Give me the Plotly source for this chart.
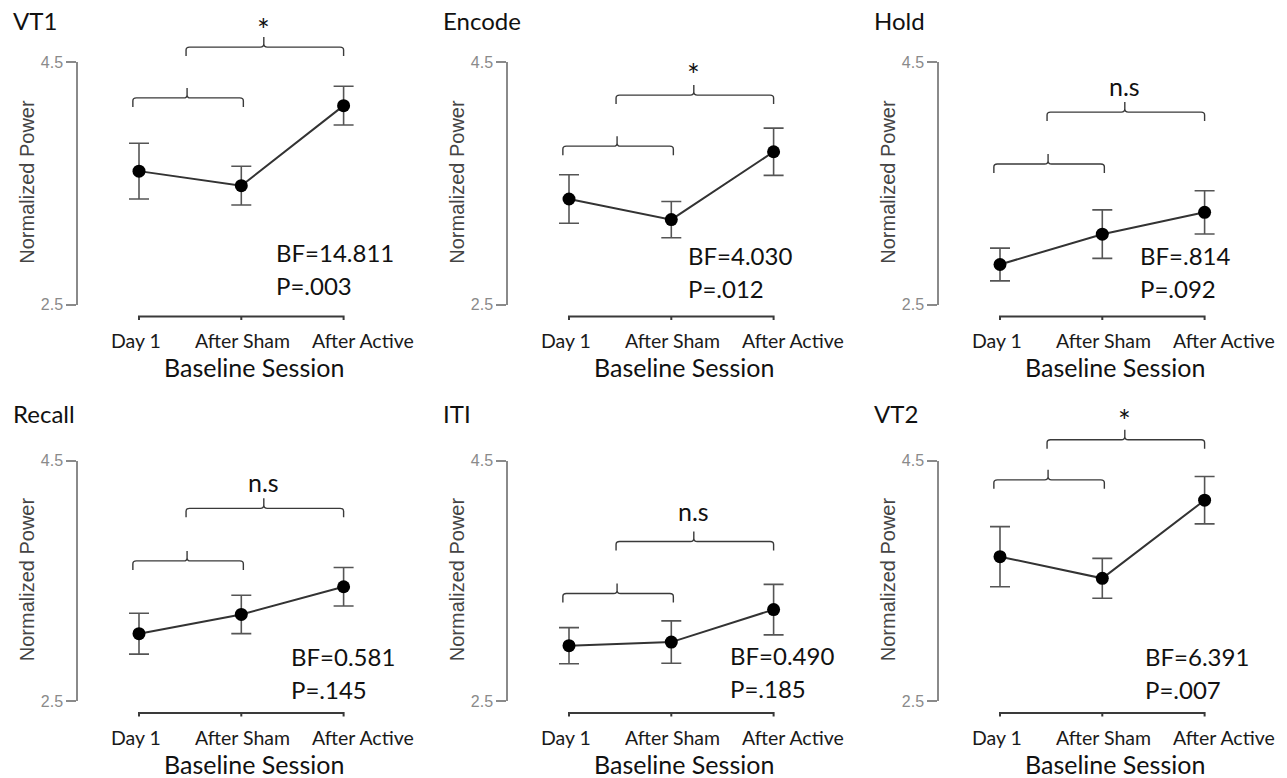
import plotly.graph_objects as go

# ---- data -------------------------------------------------------------
panels = ["VT1", "Encode", "Hold", "Recall", "ITI", "VT2"]
sessions = ["Day 1", "After Sham", "After Active"]

mean_vt1 = [3.60, 3.48, 4.14]
mean_encode = [3.37, 3.20, 3.76]
mean_hold = [2.83, 3.08, 3.26]
mean_recall = [3.06, 3.22, 3.45]
mean_iti = [2.96, 2.99, 3.26]
mean_vt2 = [3.70, 3.52, 4.17]

err_vt1 = [0.23, 0.16, 0.16]
err_encode = [0.20, 0.15, 0.195]
err_hold = [0.135, 0.20, 0.178]
err_recall = [0.17, 0.16, 0.16]
err_iti = [0.15, 0.176, 0.21]
err_vt2 = [0.25, 0.166, 0.197]

sig_labels = ["*", "*", "n.s", "n.s", "n.s", "*"]
bf_labels = ["BF=14.811", "BF=4.030", "BF=.814", "BF=0.581", "BF=0.490", "BF=6.391"]
p_labels = ["P=.003", "P=.012", "P=.092", "P=.145", "P=.185", "P=.007"]

y_ticks = [2.5, 4.5]

means = [mean_vt1, mean_encode, mean_hold, mean_recall, mean_iti, mean_vt2]
errors = [err_vt1, err_encode, err_hold, err_recall, err_iti, err_vt2]

# ---- annotation placement (value units on each panel's y scale) ----------
lower_brace_y = [4.204, 3.806, 3.659, 3.665, 3.394, 4.339]
upper_brace_y = [4.623, 4.227, 4.087, 4.102, 3.826, 4.672]
sig_label_y = [4.77, 4.40, 4.30, 4.32, 4.08, 4.84]
stats_x = [1.32, 1.145, 1.35, 1.47, 1.55, 1.40]
stats_y = [2.926, 2.905, 2.90, 2.873, 2.882, 2.873]

# ---- page geometry ------------------------------------------------------
W, H = 1287, 778
COL_LEFT = [78, 508, 939]
ROW_TOP = [62, 460.5]
ROW_BOTTOM = [304.5, 701]
FIRST_OFFSET = 61
STEP = 102.3

CAL = "Lato, 'Noto Sans', sans-serif"
ARIAL = "'Liberation Sans', Arial, sans-serif"

fig = go.Figure()
layout = dict(
    width=W, height=H,
    margin=dict(l=0, r=0, t=0, b=0, pad=0),
    paper_bgcolor="white", plot_bgcolor="white",
    showlegend=False,
)
shapes = []
annotations = []


def brace(xa, xb, xm, yl, depth_px, notch_px, xref):
    """Curly-bracket path: x in data units, y in paper units."""
    dy_end = depth_px / H
    dy_notch = notch_px / H
    dx = 3.5 / STEP
    r = 3.0 / H
    ye = yl - dy_end
    yn = yl + dy_notch
    path = (
        f"M {xa},{ye} L {xa},{yl - r} Q {xa},{yl} {xa + dx},{yl} "
        f"L {xm - dx},{yl} Q {xm},{yl} {xm},{yl + r} L {xm},{yn} "
        f"M {xm},{yl + r} Q {xm},{yl} {xm + dx},{yl} "
        f"L {xb - dx},{yl} Q {xb},{yl} {xb},{yl - r} L {xb},{ye}"
    )
    return dict(type="path", path=path, xref=xref, yref="paper",
                line=dict(color="#3a3a3a", width=1.4))


for k, name in enumerate(panels):
    r, c = divmod(k, 3)
    idx = "" if k == 0 else str(k + 1)
    xa_name, ya_name = "xaxis" + idx, "yaxis" + idx
    xref, yref = "x" + idx, "y" + idx

    left = COL_LEFT[c]
    right = left + 2 * FIRST_OFFSET + 2 * STEP
    top, bottom = ROW_TOP[r], ROW_BOTTOM[r]
    yd0, yd1 = 1 - bottom / H, 1 - top / H

    def vy(v):
        return yd0 + (v - y_ticks[0]) / (y_ticks[1] - y_ticks[0]) * (yd1 - yd0)

    layout[xa_name] = dict(
        domain=[left / W, right / W],
        range=[-FIRST_OFFSET / STEP, 2 + FIRST_OFFSET / STEP],
        anchor=yref, showline=False, showgrid=False, zeroline=False,
        showticklabels=False, ticks="", fixedrange=True, automargin=False,
    )
    layout[ya_name] = dict(
        domain=[yd0, yd1], range=y_ticks, anchor=xref,
        showline=True, linecolor="#8a8a8a", linewidth=1.5,
        ticks="outside", ticklen=10, tickwidth=1.5, tickcolor="#8a8a8a",
        tickvals=y_ticks, ticktext=[f"{v:.1f}" for v in y_ticks],
        tickfont=dict(family=ARIAL, size=16, color="#8a8a8a"),
        showgrid=False, zeroline=False, fixedrange=True, automargin=False,
    )

    fig.add_trace(go.Scatter(
        x=list(range(len(sessions))), y=means[k],
        xaxis=xref, yaxis=yref,
        mode="lines+markers",
        line=dict(color="#333333", width=2),
        marker=dict(color="black", size=13),
        error_y=dict(type="data", array=errors[k], visible=True,
                     color="#555555", thickness=1.6, width=10),
        cliponaxis=False,
    ))

    # category axis drawn below the value range
    ya = yd0 - 12 / H
    t = 3.5 / H
    shapes.append(dict(
        type="path", xref=xref, yref="paper",
        path=(f"M 0,{ya - t} L 0,{ya} L 2,{ya} L 2,{ya - t} "
              f"M 1,{ya} L 1,{ya - t}"),
        line=dict(color="#3a3a3a", width=2),
    ))
    for i, s in enumerate(sessions):
        annotations.append(dict(
            text=s, x=i, xref=xref, y=yd0 - 36 / H, yref="paper",
            xshift=[-3, 1, 19][i], showarrow=False,
            xanchor="center", yanchor="middle",
            font=dict(family=CAL, size=19.5, color="#1a1a1a"),
        ))
    annotations.append(dict(
        text="Baseline Session", x=1, xref=xref, xshift=13,
        y=yd0 - 63 / H, yref="paper", showarrow=False,
        xanchor="center", yanchor="middle",
        font=dict(family=CAL, size=25, color="#111111"),
    ))
    annotations.append(dict(
        text="Normalized Power", textangle=-90,
        x=left / W, xref="paper", xshift=-51,
        y=(yd0 + yd1) / 2, yref="paper", yshift=1.5,
        showarrow=False, xanchor="center", yanchor="middle",
        font=dict(family=ARIAL, size=20, color="#444444"),
    ))
    # panel title
    annotations.append(dict(
        text=name, x=(left - 67) / W, xref="paper",
        y=yd1 + (41 if r == 0 else 47) / H, yref="paper",
        showarrow=False, xanchor="left", yanchor="middle",
        font=dict(family=CAL, size=24, color="#111111"),
    ))

    # comparison brackets
    shapes.append(brace(-0.06, 1.02, 0.47, vy(lower_brace_y[k]), 9, 10, xref))
    shapes.append(brace(0.46, 2.0, 1.22, vy(upper_brace_y[k]), 9, 10, xref))
    annotations.append(dict(
        text=sig_labels[k], x=1.22, xref=xref, y=vy(sig_label_y[k]), yref="paper",
        showarrow=False, xanchor="center", yanchor="middle",
        font=dict(family=CAL, size=30 if sig_labels[k] == "*" else 25,
                  color="#111111"),
    ))

    # Bayes factor / p-value
    annotations.append(dict(
        text=bf_labels[k], x=stats_x[k], xref=xref, y=vy(stats_y[k]), yref="paper",
        showarrow=False, xanchor="left", yanchor="middle",
        font=dict(family=CAL, size=24, color="#111111"),
    ))
    annotations.append(dict(
        text=p_labels[k], x=stats_x[k], xref=xref, y=vy(stats_y[k]), yref="paper",
        yshift=-33, showarrow=False, xanchor="left", yanchor="middle",
        font=dict(family=CAL, size=24, color="#111111"),
    ))

layout["shapes"] = shapes
layout["annotations"] = annotations
fig.update_layout(**layout)
fig.write_html("out.html")
